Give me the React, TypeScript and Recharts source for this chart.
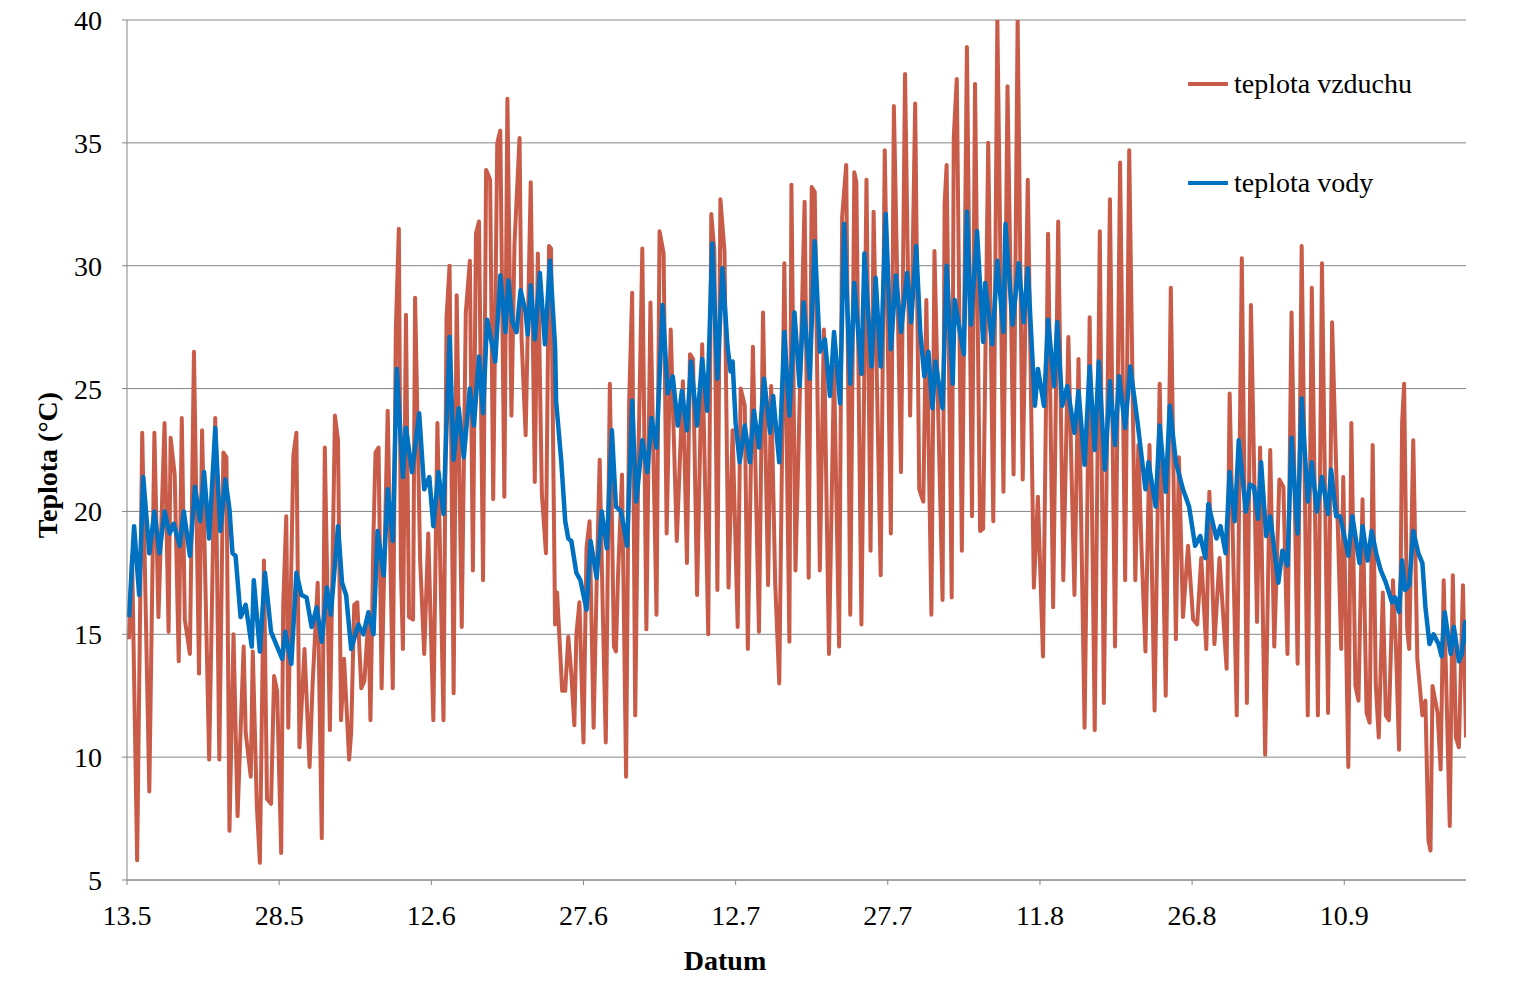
import { LineChart, Line, XAxis, YAxis, CartesianGrid, Legend } from 'recharts';

// day offset from 13.5, temperature °C
const airTemp: [number, number][] = [
  [0.2, 14.8], [0.5, 18.2], [1.0, 5.8], [1.5, 23.2], [2.2, 8.6], [2.7, 23.2], [3.1, 15.7], [3.7, 23.6],
  [4.1, 15.1], [4.3, 23.0], [4.7, 21.5], [5.1, 13.9], [5.4, 23.8], [5.7, 15.6], [6.2, 14.2], [6.6, 26.5],
  [7.1, 13.4], [7.4, 23.3], [8.1, 9.9], [8.7, 23.8], [9.1, 9.9], [9.5, 22.4], [9.8, 22.2], [10.1, 7.0],
  [10.5, 15.0], [10.9, 7.6], [11.5, 14.5], [11.7, 11.0], [12.2, 9.2], [12.4, 14.3], [12.8, 8.0], [13.1, 5.7],
  [13.5, 18.0], [13.8, 8.3], [14.2, 8.1], [14.5, 13.3], [14.8, 12.7], [15.2, 6.1], [15.4, 16.2], [15.7, 19.8],
  [15.9, 11.2], [16.4, 22.3], [16.7, 23.2], [17.0, 10.4], [17.5, 14.4], [18.0, 9.6], [18.3, 13.0], [18.8, 17.1],
  [19.2, 6.7], [19.5, 22.6], [20.0, 11.1], [20.5, 23.9], [20.8, 22.9], [21.1, 11.5], [21.4, 14.0], [21.9, 9.9],
  [22.1, 11.0], [22.4, 16.2], [22.7, 16.3], [23.1, 12.8], [23.4, 13.1], [23.8, 15.7], [24.0, 11.5], [24.3, 19.1],
  [24.5, 22.4], [24.8, 22.6], [25.1, 12.8], [25.7, 24.1], [26.2, 12.8], [26.5, 27.4], [26.8, 31.5], [27.0, 17.7],
  [27.2, 14.4], [27.5, 28.0], [27.8, 15.7], [28.2, 15.6], [28.4, 28.7], [28.9, 18.0], [29.3, 14.2], [29.7, 19.1],
  [30.2, 11.5], [30.6, 23.6], [31.2, 11.5], [31.5, 27.9], [31.8, 30.0], [32.2, 12.6], [32.5, 28.8], [33.0, 15.3],
  [33.4, 28.1], [33.8, 30.2], [34.1, 17.6], [34.4, 31.3], [34.7, 31.8], [35.1, 17.2], [35.4, 33.9], [35.8, 33.5],
  [36.1, 20.5], [36.5, 35.0], [36.8, 35.5], [37.2, 20.6], [37.5, 36.8], [37.9, 23.9], [38.2, 30.9], [38.7, 35.2],
  [38.9, 27.0], [39.3, 23.1], [39.8, 33.4], [40.2, 21.2], [40.5, 30.5], [40.9, 20.7], [41.3, 18.3], [41.6, 30.8],
  [41.8, 30.7], [42.2, 15.4], [42.4, 16.7], [42.9, 12.7], [43.2, 12.7], [43.5, 14.9], [43.8, 13.4], [44.1, 11.3],
  [44.3, 15.0], [44.6, 16.3], [45.0, 10.6], [45.3, 18.5], [45.6, 19.6], [46.0, 11.2], [46.3, 17.1], [46.6, 22.1],
  [46.9, 16.0], [47.2, 10.6], [47.6, 25.2], [48.0, 14.5], [48.2, 14.3], [48.4, 17.3], [48.8, 21.5], [49.2, 9.2],
  [49.5, 24.4], [49.8, 28.9], [50.1, 11.7], [50.4, 21.8], [50.8, 30.7], [51.2, 15.2], [51.6, 28.5], [52.2, 15.8],
  [52.5, 31.4], [52.9, 30.5], [53.2, 19.1], [53.6, 27.4], [54.2, 18.8], [54.8, 25.3], [55.2, 17.9], [55.5, 26.4],
  [55.8, 26.2], [56.2, 16.6], [56.7, 26.8], [57.3, 15.0], [57.6, 32.1], [57.9, 30.6], [58.2, 16.8], [58.5, 32.7],
  [58.9, 30.6], [59.3, 16.9], [59.7, 23.3], [60.2, 15.3], [60.5, 25.0], [60.9, 24.3], [61.2, 14.4], [61.7, 26.7],
  [62.3, 15.1], [62.7, 28.1], [63.2, 17.0], [63.5, 25.1], [63.9, 17.1], [64.3, 13.0], [64.8, 30.1], [65.3, 14.7],
  [65.5, 33.3], [65.9, 17.6], [66.8, 32.6], [67.2, 17.3], [67.5, 33.2], [67.8, 33.0], [68.3, 17.6], [68.7, 27.4],
  [69.2, 14.2], [69.7, 25.9], [70.2, 14.5], [70.5, 32.0], [70.9, 34.1], [71.3, 15.8], [71.7, 33.8], [71.9, 33.4],
  [72.4, 15.4], [72.9, 33.5], [73.3, 18.4], [73.6, 32.2], [74.3, 17.4], [74.7, 34.7], [75.3, 19.1], [75.6, 36.5],
  [76.3, 21.6], [76.7, 37.8], [77.2, 23.9], [77.7, 36.6], [78.1, 20.9], [78.5, 20.4], [78.8, 28.6], [79.3, 15.8],
  [79.6, 30.6], [80.4, 16.4], [80.6, 32.5], [80.8, 34.1], [81.3, 16.5], [81.5, 35.2], [81.8, 37.6], [82.3, 18.4],
  [82.8, 38.9], [83.3, 19.8], [83.6, 37.4], [84.1, 19.2], [84.4, 19.3], [84.9, 35.0], [85.4, 19.6], [85.8, 40.0],
  [86.4, 20.8], [86.8, 37.3], [87.4, 21.5], [87.8, 40.0], [88.3, 21.3], [88.8, 33.5], [89.4, 16.9], [89.8, 20.6],
  [90.3, 14.1], [90.8, 31.3], [91.3, 16.1], [91.8, 31.8], [92.3, 17.2], [92.8, 27.1], [93.4, 16.6], [93.8, 26.2],
  [94.4, 11.2], [94.9, 27.9], [95.4, 11.1], [95.9, 31.4], [96.3, 12.2], [96.9, 32.7], [97.4, 14.5], [97.9, 34.2],
  [98.4, 17.2], [98.8, 34.7], [99.4, 17.2], [99.7, 22.7], [100.0, 18.6], [100.4, 14.3], [100.8, 22.7], [101.3, 11.9],
  [101.8, 25.2], [102.4, 12.5], [102.9, 29.1], [103.4, 14.8], [103.7, 22.2], [104.1, 15.7], [104.6, 18.6], [105.1, 15.6],
  [105.5, 15.4], [105.9, 18.1], [106.4, 14.4], [106.7, 20.8], [107.2, 14.6], [107.7, 18.1], [108.4, 13.6], [108.7, 24.8],
  [109.4, 11.7], [109.9, 30.3], [110.4, 12.2], [110.8, 28.4], [111.4, 15.5], [111.7, 22.6], [112.2, 10.1], [112.7, 22.5],
  [113.1, 14.5], [113.6, 21.3], [114.0, 21.0], [114.4, 14.2], [114.8, 28.1], [115.4, 13.8], [115.8, 30.8], [116.4, 11.7],
  [116.8, 29.1], [117.4, 11.7], [117.8, 30.1], [118.4, 11.8], [118.8, 27.7], [119.7, 14.4], [119.9, 21.4], [120.4, 9.6],
  [120.7, 23.6], [121.1, 12.9], [121.4, 12.3], [121.8, 20.5], [122.2, 11.8], [122.5, 11.4], [122.8, 22.7], [123.1, 13.0],
  [123.4, 10.8], [123.8, 16.7], [124.1, 11.7], [124.4, 11.5], [124.8, 17.2], [125.1, 14.4], [125.4, 10.3], [125.7, 23.6],
  [125.9, 25.2], [126.2, 15.2], [126.4, 14.4], [126.8, 22.9], [127.2, 14.0], [127.7, 11.7], [128.0, 12.3], [128.3, 6.6],
  [128.5, 6.2], [128.7, 12.9], [129.2, 11.8], [129.5, 9.5], [129.8, 17.2], [130.4, 7.2], [130.7, 17.4], [131.0, 10.8],
  [131.3, 10.4], [131.7, 17.0], [132.0, 10.8],
];

const waterTemp: [number, number][] = [
  [0.2, 15.7], [0.7, 19.4], [1.2, 16.6], [1.6, 21.4], [2.2, 18.3], [2.7, 20.0], [3.2, 18.3], [3.7, 20.0],
  [4.2, 19.1], [4.6, 19.5], [5.2, 18.6], [5.6, 20.0], [6.2, 18.2], [6.7, 21.0], [7.2, 19.6], [7.6, 21.6],
  [8.1, 18.9], [8.7, 23.4], [9.2, 19.2], [9.7, 21.3], [10.1, 20.1], [10.4, 18.3], [10.7, 18.2], [11.2, 15.7],
  [11.7, 16.2], [12.3, 14.5], [12.5, 17.2], [13.1, 14.3], [13.6, 17.5], [14.2, 15.1], [14.8, 14.5], [15.3, 14.0],
  [15.6, 15.1], [16.2, 13.8], [16.7, 17.5], [17.2, 16.6], [17.7, 16.5], [18.2, 15.3], [18.7, 16.1], [19.2, 14.7],
  [19.7, 16.9], [20.1, 15.8], [20.8, 19.4], [21.2, 17.1], [21.6, 16.6], [22.1, 14.4], [22.8, 15.4], [23.3, 15.0],
  [23.8, 15.9], [24.3, 15.0], [24.7, 19.2], [25.3, 17.4], [25.7, 20.9], [26.2, 18.8], [26.6, 25.8], [27.2, 21.4],
  [27.5, 23.4], [28.1, 21.6], [28.8, 24.0], [29.3, 20.9], [29.8, 21.4], [30.2, 19.4], [30.7, 21.6], [31.2, 19.9],
  [31.8, 27.1], [32.2, 22.1], [32.7, 24.2], [33.2, 22.2], [33.8, 25.0], [34.2, 23.5], [34.7, 26.3], [35.1, 24.0],
  [35.5, 27.8], [35.9, 27.0], [36.3, 26.1], [36.8, 29.6], [37.3, 27.3], [37.6, 29.4], [38.0, 27.7], [38.4, 27.3],
  [38.8, 29.0], [39.3, 28.1], [39.5, 27.2], [39.8, 29.2], [40.2, 27.0], [40.7, 29.7], [41.2, 26.8], [41.7, 30.2],
  [42.2, 26.7], [42.3, 24.5], [42.8, 22.1], [43.2, 19.6], [43.5, 18.9], [43.8, 18.8], [44.3, 17.5], [44.7, 17.2],
  [45.3, 16.0], [45.7, 18.8], [46.3, 17.3], [46.8, 20.0], [47.3, 18.5], [47.8, 23.3], [48.2, 20.2], [48.7, 20.0],
  [49.3, 18.6], [49.8, 24.5], [50.2, 20.4], [50.8, 22.9], [51.3, 21.6], [51.7, 23.8], [52.2, 22.6], [52.8, 28.4],
  [53.3, 24.8], [53.8, 25.5], [54.3, 23.5], [54.7, 24.9], [55.2, 23.3], [55.6, 26.1], [56.2, 23.5], [56.7, 26.2],
  [57.2, 24.1], [57.7, 30.9], [58.2, 25.4], [58.7, 29.9], [59.2, 26.7], [59.5, 25.7], [59.7, 26.1], [60.0, 23.6],
  [60.4, 22.0], [60.9, 23.5], [61.4, 22.0], [61.8, 24.1], [62.3, 22.6], [62.8, 25.4], [63.4, 23.2], [63.7, 24.7],
  [64.3, 22.0], [64.8, 27.3], [65.3, 23.9], [65.8, 28.1], [66.3, 25.1], [66.7, 28.5], [67.3, 25.4], [67.8, 31.0],
  [68.3, 26.5], [68.8, 27.0], [69.3, 24.7], [69.7, 27.3], [70.3, 24.4], [70.7, 31.7], [71.3, 25.2], [71.7, 29.3],
  [72.4, 25.6], [72.7, 30.5], [73.4, 25.9], [73.8, 29.5], [74.3, 25.9], [74.8, 32.1], [75.3, 26.6], [75.8, 29.6],
  [76.3, 27.3], [76.9, 29.7], [77.3, 27.7], [77.8, 30.8], [78.2, 27.3], [78.6, 25.5], [79.0, 26.5], [79.4, 24.2],
  [79.7, 26.1], [80.4, 24.2], [80.8, 30.0], [81.4, 25.2], [81.6, 28.6], [82.2, 27.1], [82.5, 26.4], [82.8, 32.2],
  [83.2, 27.6], [83.8, 31.4], [84.4, 26.9], [84.6, 29.3], [85.3, 26.8], [85.8, 30.2], [86.4, 27.3], [86.6, 31.7],
  [87.3, 27.6], [87.9, 30.1], [88.4, 27.7], [88.8, 29.9], [89.5, 24.3], [89.8, 25.8], [90.4, 24.3], [90.8, 27.8],
  [91.4, 25.1], [91.7, 27.7], [92.2, 24.3], [92.7, 25.1], [93.4, 23.2], [93.8, 24.9], [94.4, 21.9], [94.9, 25.9],
  [95.4, 22.5], [95.8, 26.1], [96.4, 21.7], [96.9, 25.3], [97.4, 22.7], [97.8, 25.5], [98.4, 23.4], [98.9, 25.9],
  [99.6, 23.7], [100.4, 20.9], [100.7, 22.0], [101.4, 20.2], [101.8, 23.5], [102.4, 20.8], [102.8, 24.3], [103.4, 22.0],
  [104.1, 20.9], [104.7, 20.2], [105.3, 18.6], [105.8, 19.0], [106.3, 18.1], [106.6, 20.3], [107.4, 18.9], [107.8, 19.4],
  [108.3, 18.3], [108.7, 21.6], [109.2, 19.6], [109.6, 22.9], [110.3, 20.0], [110.7, 21.1], [111.1, 21.0], [111.5, 19.7],
  [111.8, 22.0], [112.3, 19.0], [112.7, 19.8], [113.5, 17.1], [113.9, 18.4], [114.4, 17.8], [114.8, 23.0], [115.4, 19.1],
  [115.8, 24.6], [116.4, 20.4], [116.8, 22.0], [117.3, 20.0], [117.8, 21.4], [118.4, 19.9], [118.7, 21.7], [119.2, 19.8],
  [119.6, 19.8], [120.4, 18.2], [120.8, 19.8], [121.5, 17.9], [121.8, 19.4], [122.3, 18.0], [122.7, 19.2], [123.2, 18.2],
  [123.6, 17.6], [124.1, 17.1], [124.7, 16.3], [125.0, 16.5], [125.4, 15.9], [125.7, 18.0], [126.0, 16.8], [126.4, 17.0],
  [126.8, 19.2], [127.3, 18.3], [127.7, 17.9], [128.0, 16.1], [128.4, 14.6], [128.8, 15.0], [129.3, 14.6], [129.6, 14.1],
  [129.9, 15.9], [130.5, 14.2], [130.8, 15.3], [131.3, 13.9], [131.6, 14.2], [131.9, 15.5], [132.0, 14.6],
];

const dateTicks = [0, 15, 30, 45, 60, 75, 90, 105, 120];
const dateLabels = ['13.5', '28.5', '12.6', '27.6', '12.7', '27.7', '11.8', '26.8', '10.9'];
const tempTicks = [5, 10, 15, 20, 25, 30, 35, 40];
const seriesNames = ['teplota vzduchu', 'teplota vody'];

const AIR_COLOR = '#C85C48';
const WATER_COLOR = '#0070C0';
const GRID = '#868686';
const FONT = "'Liberation Serif', 'Times New Roman', serif";
const FONT_SIZE = 28;

// merge both series onto one day axis
function buildRows() {
  const rows = new Map<number, { d: number; air?: number; water?: number }>();
  airTemp.forEach(([d, t]) => rows.set(d, { ...(rows.get(d) || { d }), air: t }));
  waterTemp.forEach(([d, t]) => rows.set(d, { ...(rows.get(d) || { d }), water: t }));
  return Array.from(rows.values()).sort((a, b) => a.d - b.d);
}

const rows = buildRows();

const XTitle = (props: any) => {
  const { viewBox } = props;
  return (
    <text
      x={viewBox.x + 598}
      y={viewBox.y + 80}
      textAnchor="middle"
      dominantBaseline="central"
      fontFamily={FONT}
      fontSize={FONT_SIZE}
      fontWeight="bold"
      fill="#000"
    >
      Datum
    </text>
  );
};

const YTitle = (props: any) => {
  const { viewBox } = props;
  const cx = viewBox.x + 47;
  const cy = viewBox.y + viewBox.height / 2 + 15;
  return (
    <text
      x={cx}
      y={cy}
      transform={`rotate(-90, ${cx}, ${cy})`}
      textAnchor="middle"
      dominantBaseline="central"
      fontFamily={FONT}
      fontSize={FONT_SIZE}
      fontWeight="bold"
      fill="#000"
    >
      Teplota (°C)
    </text>
  );
};

const renderLegend = (props: any) => {
  const { payload = [] } = props;
  // keep the series order of the original legend
  const items = [...payload].sort(
    (a: any, b: any) => seriesNames.indexOf(a.value) - seriesNames.indexOf(b.value)
  );
  return (
    <div style={{ fontFamily: FONT, fontSize: FONT_SIZE, color: '#000' }}>
      {items.map((p: any) => (
        <div key={p.value} style={{ display: 'flex', alignItems: 'center', height: 32, marginBottom: 67 }}>
          <span style={{ display: 'inline-block', width: 40, height: 4, background: p.color, marginRight: 6 }} />
          <span>{p.value}</span>
        </div>
      ))}
    </div>
  );
};

export default function App() {
  // pull the chart over the body margin so it fills the 1527x987 page
  return (
    <div style={{ width: 1527, height: 987, margin: '-8px 0 0 -8px' }}>
      <LineChart width={1527} height={987} data={rows} margin={{ top: 20, right: 61, bottom: 0, left: 0 }}>
        <CartesianGrid vertical={false} stroke={GRID} strokeWidth={1} />
        <XAxis
          dataKey="d"
          type="number"
          domain={[0, 132]}
          ticks={dateTicks}
          tickFormatter={(v: number) => dateLabels[dateTicks.indexOf(v)]}
          height={107}
          stroke={GRID}
          tickSize={5}
          tickMargin={20}
          tick={{ fill: '#000', fontSize: FONT_SIZE, fontFamily: FONT }}
          interval={0}
          allowDataOverflow
          label={XTitle}
        />
        <YAxis
          type="number"
          domain={[5, 40]}
          ticks={tempTicks}
          width={127}
          stroke={GRID}
          tickSize={5}
          tickMargin={20}
          tick={{ fill: '#000', fontSize: FONT_SIZE, fontFamily: FONT }}
          interval={0}
          allowDataOverflow
          label={YTitle}
        />
        <Line
          dataKey="air"
          name={seriesNames[0]}
          type="linear"
          stroke={AIR_COLOR}
          strokeWidth={4}
          strokeLinejoin="round"
          dot={false}
          connectNulls
          isAnimationActive={false}
        />
        <Line
          dataKey="water"
          name={seriesNames[1]}
          type="linear"
          stroke={WATER_COLOR}
          strokeWidth={4.5}
          strokeLinejoin="round"
          dot={false}
          connectNulls
          isAnimationActive={false}
        />
        <Legend
          layout="horizontal"
          align="center"
          verticalAlign="middle"
          content={renderLegend}
          wrapperStyle={{ position: 'absolute', top: 68, left: 1188, width: 320 }}
        />
      </LineChart>
    </div>
  );
}
